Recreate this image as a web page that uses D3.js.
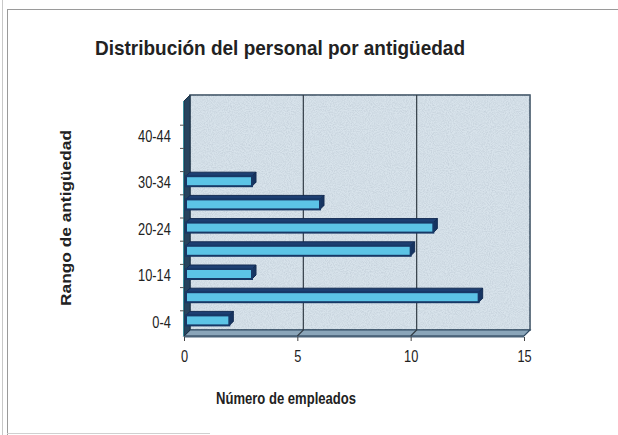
<!DOCTYPE html>
<html>
<head>
<meta charset="utf-8">
<title>Distribución del personal por antigüedad</title>
<style>
  * { margin: 0; padding: 0; }
  html, body { width: 618px; height: 435px; background: #fff; overflow: hidden; }
  svg { display: block; font-family: "Liberation Sans", Arial, sans-serif; }
</style>
</head>
<body>
<script src="https://cdn.jsdelivr.net/npm/d3@7"></script>
<script>
  // datos
  const categories = ["0-4", "5-9", "10-14", "15-19", "20-24", "25-29", "30-34", "35-39", "40-44", "45-49"];
  const empleados = [2, 13, 3, 10, 11, 6, 3, 0, 0, 0];
  const xTicks = [0, 5, 10, 15];
  const yTickLabels = ["0-4", "10-14", "20-24", "30-34", "40-44"];

  const width = 618, height = 435;
  const depth = 6;          // profundidad del efecto 3D
  const barDepth = 4;
  const narrow = 0.8;       // simula Arial Narrow
  const front = { left: 184, right: 524, top: 101, bottom: 336 };

  const svg = d3.select("body").append("svg")
    .attr("width", width)
    .attr("height", height);

  // ruido tipo escaneo
  const defs = svg.append("defs");
  const f = defs.append("filter").attr("id", "noise").attr("x", 0).attr("y", 0).attr("width", "100%").attr("height", "100%");
  f.append("feTurbulence").attr("type", "fractalNoise").attr("baseFrequency", 0.95).attr("numOctaves", 2).attr("seed", 3).attr("result", "t");
  f.append("feColorMatrix").attr("in", "t").attr("type", "matrix")
    .attr("values", "0 0 0 0 0.35  0 0 0 0 0.42  0 0 0 0 0.5  0 0 0 -1.6 1.05");

  const x = d3.scaleLinear()
    .domain([0, 15])
    .range([front.left, front.right]);

  const y = d3.scaleBand()
    .domain(categories)
    .range([334, 102]);

  // marco de la hoja
  const frame = svg.append("g").attr("fill", "none").attr("stroke", "#9a9a9a");
  frame.append("line").attr("x1", 7).attr("x2", 618).attr("y1", 9.5).attr("y2", 9.5);
  frame.append("line").attr("x1", 7.5).attr("x2", 7.5).attr("y1", 9).attr("y2", 435);
  frame.append("line").attr("x1", 2.5).attr("x2", 2.5).attr("y1", 0).attr("y2", 435).attr("stroke", "#c8c8c8");
  frame.append("line").attr("x1", 7).attr("x2", 210).attr("y1", 433.5).attr("y2", 433.5).attr("stroke", "#d0d0d0");

  // pared del fondo
  const wallX0 = front.left + depth, wallX1 = front.right + depth;
  const wallY0 = front.top - depth, wallY1 = front.bottom - depth;
  svg.append("rect")
    .attr("x", wallX0).attr("y", wallY0)
    .attr("width", wallX1 - wallX0).attr("height", wallY1 - wallY0)
    .attr("fill", "#d8e3eb")
    .attr("stroke", "#34495c").attr("stroke-width", 1.5);
  svg.append("rect")
    .attr("x", wallX0).attr("y", wallY0)
    .attr("width", wallX1 - wallX0).attr("height", wallY1 - wallY0)
    .attr("filter", "url(#noise)").attr("opacity", 0.4);

  // suelo
  svg.append("polygon")
    .attr("points", [[front.left, front.bottom], [front.right, front.bottom], [wallX1, wallY1], [wallX0, wallY1]].join(" "))
    .attr("fill", "#8aa5b9")
    .attr("stroke", "#2f4a62").attr("stroke-width", 1.2);
  svg.append("line")
    .attr("x1", front.left).attr("x2", front.right)
    .attr("y1", front.bottom + 0.5).attr("y2", front.bottom + 0.5)
    .attr("stroke", "#4a6278").attr("stroke-width", 2);

  // líneas de división
  svg.append("g").selectAll("polyline")
    .data(xTicks.filter(d => d > 0 && d < 15))
    .join("polyline")
    .attr("points", d => [[x(d) + depth, wallY0], [x(d) + depth, wallY1], [x(d), front.bottom]].join(" "))
    .attr("fill", "none")
    .attr("stroke", "#333d46").attr("stroke-width", 1.2);

  // pared izquierda
  svg.append("polygon")
    .attr("points", [[front.left, front.bottom], [front.left, front.top], [wallX0, wallY0], [wallX0, wallY1]].join(" "))
    .attr("fill", "#26445f")
    .attr("stroke", "#1f3448").attr("stroke-width", 1);
  svg.append("line")
    .attr("x1", front.left - 0.5).attr("x2", front.left - 0.5)
    .attr("y1", front.top).attr("y2", front.bottom)
    .attr("stroke", "#3a8f9e").attr("stroke-width", 1);

  // barras 3D
  const barH = 10;
  const bars = svg.append("g").selectAll("g")
    .data(categories.map((c, i) => ({ cat: c, value: empleados[i] })).filter(d => d.value > 0))
    .join("g");

  const yTop = d => y(d.cat) + y.bandwidth() / 2 - 2 - barH / 2;
  const x0 = x(0) + 2;

  // cara superior
  bars.append("polygon")
    .attr("points", d => {
      const t = yTop(d), x1 = x(d.value);
      return [[x0, t], [x1, t], [x1 + barDepth, t - barDepth], [x0 + barDepth, t - barDepth]].join(" ");
    })
    .attr("fill", "#1d3f72").attr("stroke", "#142c52").attr("stroke-width", 1);

  // extremo
  bars.append("polygon")
    .attr("points", d => {
      const t = yTop(d), x1 = x(d.value);
      return [[x1, t], [x1 + barDepth, t - barDepth], [x1 + barDepth, t + barH - barDepth], [x1, t + barH]].join(" ");
    })
    .attr("fill", "#163461").attr("stroke", "#142c52").attr("stroke-width", 1);

  // cara frontal
  bars.append("rect")
    .attr("x", x0)
    .attr("y", d => yTop(d))
    .attr("width", d => x(d.value) - x0)
    .attr("height", barH)
    .attr("fill", "#5cc4e6")
    .attr("stroke", "#173866").attr("stroke-width", 2);

  // eje Y (categorías)
  const yAxis = svg.append("g")
    .attr("transform", `translate(${front.left - 10},0)`)
    .call(d3.axisLeft(y).tickValues(yTickLabels).tickSize(0).tickPadding(4));
  yAxis.select(".domain").remove();
  yAxis.selectAll("text")
    .attr("font-size", 16).attr("fill", "#222").attr("font-family", null)
    .attr("transform", `scale(${narrow},1)`);

  svg.append("g").selectAll("line")
    .data(categories.slice(1))
    .join("line")
    .attr("x1", front.left - 4).attr("x2", front.left)
    .attr("y1", d => y(d) + y.bandwidth())
    .attr("y2", d => y(d) + y.bandwidth())
    .attr("stroke", "#555").attr("stroke-width", 1);

  // eje X
  const xAxis = svg.append("g")
    .attr("transform", `translate(0,${front.bottom + 1})`)
    .call(d3.axisBottom(x).tickValues(xTicks).tickSize(4).tickPadding(10));
  xAxis.select(".domain").remove();
  xAxis.selectAll("line").attr("stroke", "#444");
  xAxis.selectAll("text")
    .attr("font-size", 16).attr("fill", "#222").attr("font-family", null)
    .attr("transform", `scale(${narrow},1)`);

  // títulos
  svg.append("text")
    .attr("x", 280).attr("y", 55)
    .attr("text-anchor", "middle")
    .attr("font-size", 21).attr("font-weight", "bold").attr("fill", "#222")
    .attr("textLength", 370).attr("lengthAdjust", "spacingAndGlyphs")
    .text("Distribución del personal por antigüedad");

  svg.append("text")
    .attr("x", 286).attr("y", 404)
    .attr("text-anchor", "middle")
    .attr("font-size", 17).attr("font-weight", "bold").attr("fill", "#222")
    .attr("textLength", 140).attr("lengthAdjust", "spacingAndGlyphs")
    .text("Número de empleados");

  svg.append("text")
    .attr("transform", "translate(71,218) rotate(-90)")
    .attr("text-anchor", "middle")
    .attr("font-size", 15).attr("font-weight", "bold").attr("fill", "#222")
    .attr("textLength", 176).attr("lengthAdjust", "spacingAndGlyphs")
    .text("Rango de antigüedad");
</script>
</body>
</html>
